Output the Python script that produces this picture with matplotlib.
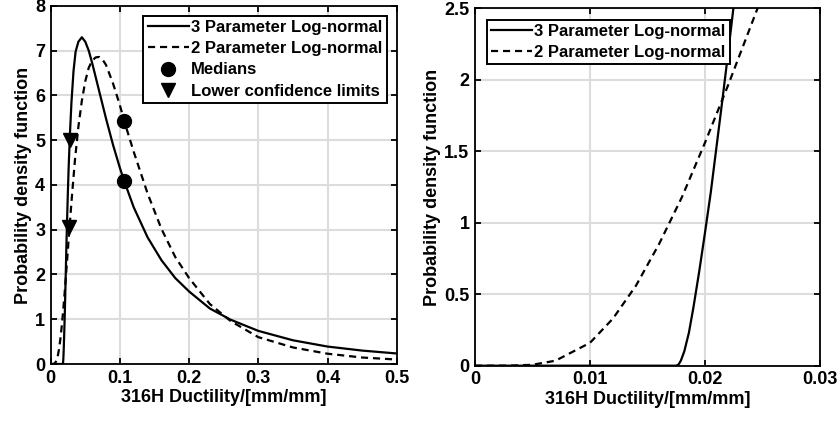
import matplotlib.pyplot as plt
from matplotlib.ticker import FormatStrFormatter

plt.rcParams['font.family'] = ['Liberation Sans', 'DejaVu Sans']
plt.rcParams['font.weight'] = 'bold'
plt.rcParams['font.size'] = 13

# 3 parameter log-normal pdf
x3 = [0.0, 0.0172, 0.0175, 0.0177, 0.0179, 0.0182, 0.0186, 0.0190, 0.0195, 0.0200,
      0.0205, 0.0210, 0.0215, 0.0220, 0.0225, 0.0230, 0.0240, 0.0250, 0.0260,
      0.0280, 0.0300, 0.0330, 0.0360, 0.0400, 0.0450, 0.0500, 0.0550, 0.0600,
      0.0700, 0.0800, 0.0900, 0.1000, 0.1064, 0.1200, 0.1400, 0.1600, 0.1800,
      0.2000, 0.2300, 0.2600, 0.3000, 0.3500, 0.4000, 0.4500, 0.5000]
pdf3 = [0.0, 0.0, 0.0, 0.008, 0.035, 0.10, 0.23, 0.41, 0.66, 0.93,
        1.21, 1.53, 1.85, 2.18, 2.52, 2.82, 3.40, 3.93, 4.42,
        5.20, 5.85, 6.55, 6.98, 7.20, 7.30, 7.20, 7.00, 6.72,
        6.10, 5.48, 4.90, 4.38, 4.08, 3.50, 2.83, 2.32, 1.92,
        1.62, 1.24, 0.99, 0.74, 0.53, 0.39, 0.30, 0.235]

# 2 parameter log-normal pdf
x2 = [0.0, 0.003, 0.005, 0.007, 0.010, 0.012, 0.014, 0.016, 0.018, 0.020,
      0.022, 0.024, 0.026, 0.030, 0.035, 0.040, 0.045, 0.050, 0.055, 0.060,
      0.065, 0.070, 0.075, 0.080, 0.090, 0.100, 0.1064, 0.120, 0.140, 0.160,
      0.180, 0.200, 0.230, 0.260, 0.300, 0.350, 0.400, 0.450, 0.500]
pdf2 = [0.0, 0.0003, 0.0065, 0.035, 0.160, 0.330, 0.56, 0.85, 1.18, 1.56,
        1.96, 2.38, 2.80, 3.62, 4.55, 5.30, 5.88, 6.32, 6.62, 6.78,
        6.85, 6.86, 6.80, 6.68, 6.27, 5.78, 5.42, 4.74, 3.81, 3.02,
        2.39, 1.92, 1.34, 0.96, 0.60, 0.37, 0.23, 0.145, 0.10]

median_x = [0.1064, 0.1064]
median_y = [4.08, 5.42]
lcl_x = [0.0280, 0.0264]
lcl_y = [5.0, 3.05]

fig = plt.figure(figsize=(8.38, 4.24), dpi=100)
ax1 = fig.add_axes([0.0605, 0.1415, 0.4129, 0.8445])
ax2 = fig.add_axes([0.5668, 0.1375, 0.4117, 0.8429])

lw = 1.6
dash = (3.2, 2.2)
leg_kw = dict(fancybox=False, edgecolor='k', framealpha=1, fontsize=12,
              handlelength=2.5, borderpad=0.25, labelspacing=0.37,
              handletextpad=0.12)

ax1.plot(x3, pdf3, 'k-', lw=lw, label='3 Parameter Log-normal')
ax1.plot(x2, pdf2, 'k--', lw=lw, dashes=dash, label='2 Parameter Log-normal')
ax1.plot(median_x, median_y, 'ko', ms=10, ls='none', label='Medians')
ax1.plot(lcl_x, lcl_y, 'kv', ms=10, ls='none', label='Lower confidence limits')
ax1.set_xlim(0, 0.5)
ax1.set_ylim(0, 8)
ax1.set_xticks([0, 0.1, 0.2, 0.3, 0.4, 0.5])
ax1.set_yticks(range(0, 9))
ax1.legend(loc='upper right', borderaxespad=0.6, **leg_kw).get_frame().set_linewidth(1.4)

ax2.plot(x3, pdf3, 'k-', lw=lw, label='3 Parameter Log-normal')
ax2.plot(x2, pdf2, 'k--', lw=lw, dashes=dash, label='2 Parameter Log-normal')
ax2.set_xlim(0, 0.03)
ax2.set_ylim(0, 2.5)
ax2.set_xticks([0, 0.01, 0.02, 0.03])
ax2.set_yticks([0, 0.5, 1, 1.5, 2, 2.5])
ax2.legend(loc='upper left', borderaxespad=0.7, **leg_kw).get_frame().set_linewidth(1.4)

for ax in (ax1, ax2):
    ax.grid(True, color='#dcdcdc', lw=1.5)
    ax.set_axisbelow(True)
    ax.tick_params(direction='in', top=True, right=True, length=4, width=1.3,
                   labelsize=13, pad=4)
    for s in ax.spines.values():
        s.set_linewidth(1.3)
    ax.xaxis.set_major_formatter(FormatStrFormatter('%g'))
    ax.yaxis.set_major_formatter(FormatStrFormatter('%g'))
    ax.set_xlabel('316H Ductility/[mm/mm]', fontweight='bold', labelpad=2)
    ax.set_ylabel('Probability density function', fontweight='bold', labelpad=2)

fig.savefig('out.png', dpi=100)
